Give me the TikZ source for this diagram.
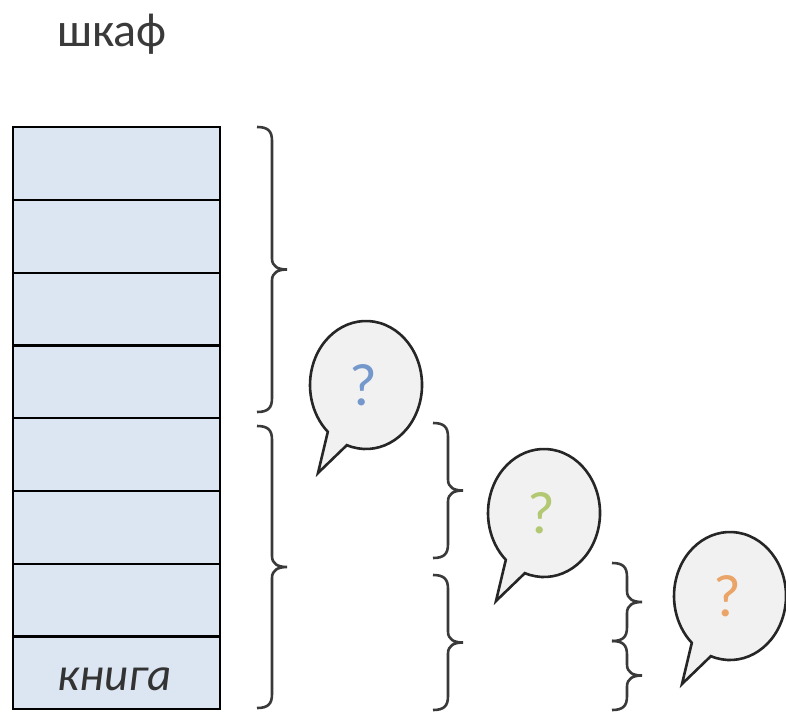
\documentclass[tikz,border=0pt]{standalone}
\usepackage{fontspec}
\setmainfont{Carlito}
\usetikzlibrary{calc}
\definecolor{shelffill}{HTML}{DCE6F2}
\definecolor{bubblefill}{HTML}{F1F1F1}
\definecolor{qblue}{HTML}{7498CC}
\definecolor{qgreen}{HTML}{B3C872}
\definecolor{qorange}{HTML}{EBA468}
\definecolor{inkgray}{HTML}{3A3A3A}
\tikzset{
  shelfrow/.style={draw=black, line width=2.4pt, fill=shelffill, minimum width=207pt,
    minimum height=72.75pt, inner sep=0pt, anchor=north west},
  brc/.style={draw=inkgray, line width=2.6pt, line join=miter},
  bubble/.style={draw=black!85, line width=2.6pt, fill=bubblefill, line join=miter},
  qmark/.style={font=\fontsize{60}{64}\selectfont, inner sep=0pt},
}
\newcommand\mybubble[5]{%
  \draw[bubble] ({#1+56*cos(110)},{#2+64*sin(110)})
    arc[start angle=110, end angle=-227, x radius=56, y radius=64]
    -- ({#1-48},{#2+88}) -- cycle;
  \node[qmark, text=#3] (#4) at ({#1-3},{#2}) {#5};
}
\newcommand\mybrace[2]{%
  \coordinate (#1m) at ($(#1)!0.5!(#2)$);
  \draw[brc] (#1) .. controls ([shift={(11,0)}]#1) and ([shift={(15,4)}]#1) .. ([shift={(15,14)}]#1)
    -- ([shift={(15,-11)}]#1m) .. controls ([shift={(15,-3)}]#1m) and ([shift={(21,0)}]#1m) .. ([shift={(30,0)}]#1m)
    .. controls ([shift={(21,0)}]#1m) and ([shift={(15,3)}]#1m) .. ([shift={(15,11)}]#1m)
    -- ([shift={(15,-14)}]#2) .. controls ([shift={(15,-4)}]#2) and ([shift={(11,0)}]#2) .. (#2);
}
\begin{document}
\begin{tikzpicture}[x=1pt,y=-1pt]
\useasboundingbox (0,0) rectangle (786,717);
\node[anchor=base, text=inkgray, font=\fontsize{48}{52}\selectfont, inner sep=0pt] (title) at (112,46) {шкаф};
\foreach \i in {0,...,6} {
  \node[shelfrow] (r\i) at (12,{126+\i*72.75}) {};
}
\node[shelfrow] (r7) at (12,{126+7*72.75}) {};
\node[anchor=base, text=black!80, font=\itshape\fontsize{47}{50}\selectfont, inner sep=0pt] (book) at (115,690) {книга};
% braces
\coordinate (b1t) at (257,127); \coordinate (b1b) at (257,412);
\coordinate (b2t) at (257,426); \coordinate (b2b) at (257,708);
\coordinate (b3t) at (433,423); \coordinate (b3b) at (433,558);
\coordinate (b4t) at (433,575); \coordinate (b4b) at (433,710);
\coordinate (b5t) at (612,563); \coordinate (b5b) at (612,641);
\coordinate (b6t) at (612,641); \coordinate (b6b) at (612,710);
\mybrace{b1t}{b1b}
\mybrace{b2t}{b2b}
\mybrace{b3t}{b3b}
\mybrace{b4t}{b4b}
\mybrace{b5t}{b5b}
\mybrace{b6t}{b6b}
% bubbles
\mybubble{366}{385}{qblue}{q1}{?}
\mybubble{544}{513}{qgreen}{q2}{?}
\mybubble{730}{596}{qorange}{q3}{?}
\end{tikzpicture}
\end{document}
